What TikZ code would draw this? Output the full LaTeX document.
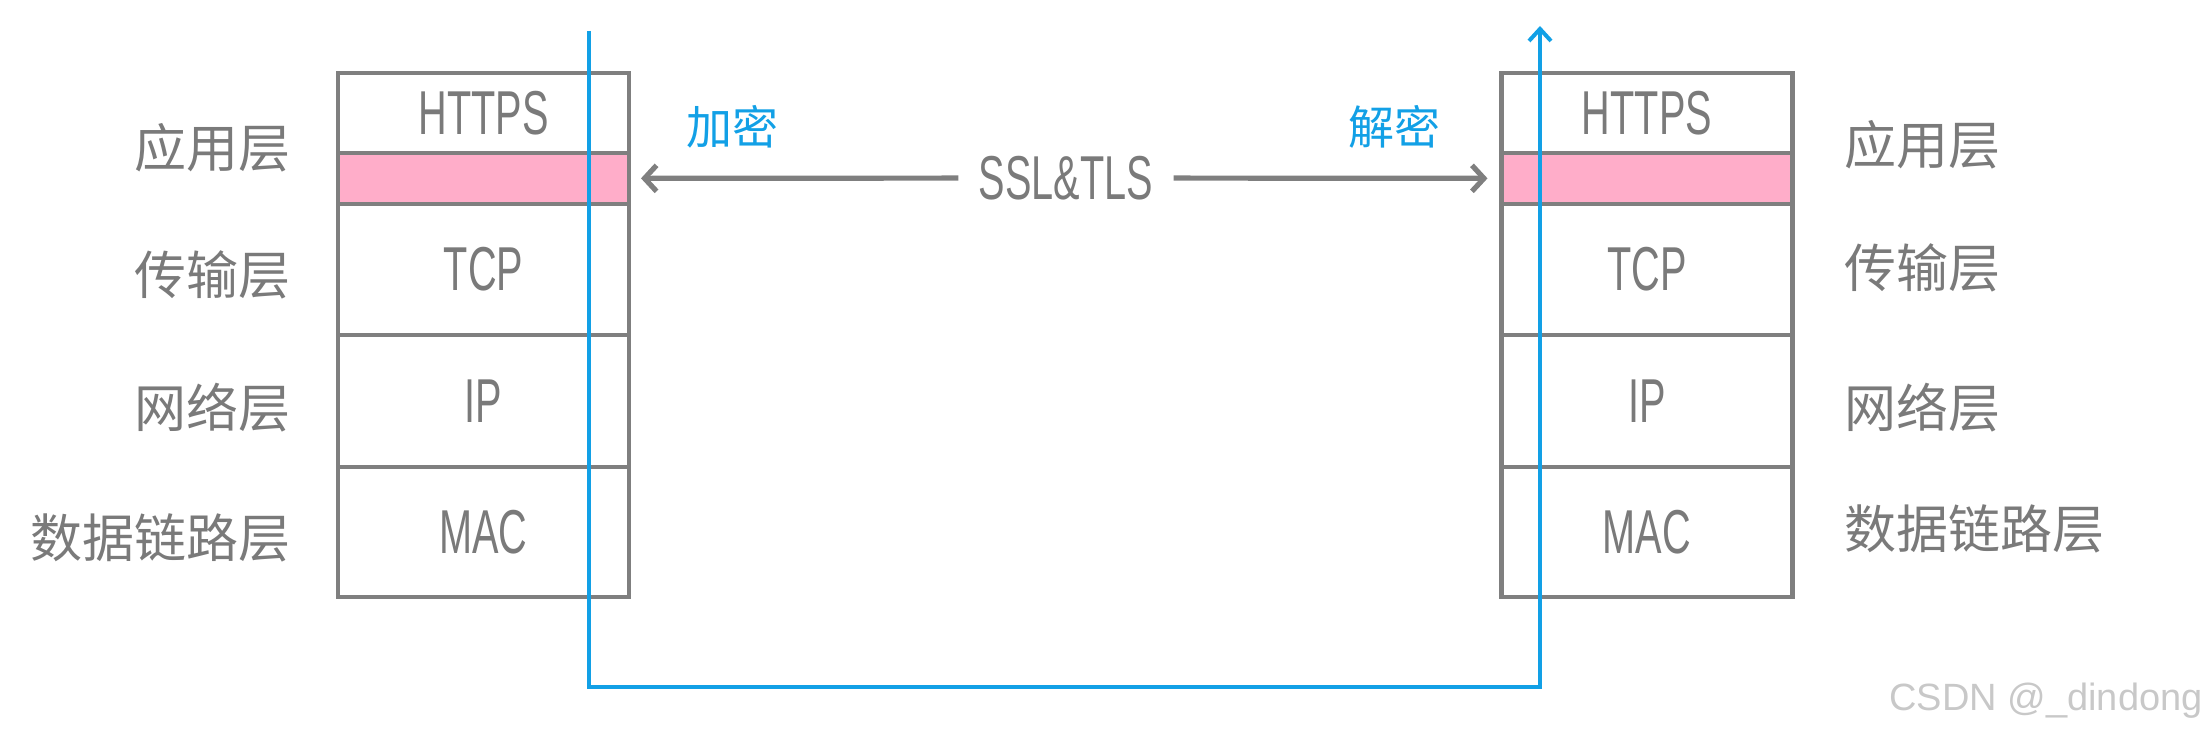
\documentclass[tikz,border=0pt]{standalone}
\usepackage{fontspec}
\setmainfont{Liberation Sans}
\newfontfamily\cjk{Noto Sans CJK SC}
\newfontfamily\narrow[FakeStretch=0.64]{Liberation Sans}
\usepackage{tikz}
\usetikzlibrary{arrows.meta,positioning,calc}
\definecolor{boxgray}{HTML}{7F7F7F}
\definecolor{textgray}{HTML}{7A7A7A}
\definecolor{sslpink}{HTML}{FFADC9}
\definecolor{pathblue}{HTML}{12A0E6}
\definecolor{markgray}{HTML}{C8C8C8}

\begin{document}
\begin{tikzpicture}[
    x=0.5pt,y=-0.5pt,
    flow/.style={line width=2.6pt,draw=boxgray,
      -{Straight Barb[length=6pt,width=13pt,line width=2.6pt]}},
    packet/.style={line width=2pt,draw=pathblue,
      -{Straight Barb[length=6pt,width=11pt,line width=2pt]}},
    layer/.style={draw=boxgray,line width=2.4pt,fill=white,
      minimum width=145.5pt,inner sep=0pt,outer sep=0pt,
      font=\narrow\fontsize{31}{31}\selectfont,text=textgray},
    sslband/.style={layer,fill=sslpink,minimum height=25.5pt},
    rowlabel/.style={font=\cjk\fontsize{26}{26}\selectfont,text=textgray,
      inner sep=0pt},
    cryptlabel/.style={font=\cjk\fontsize{23}{23}\selectfont,text=pathblue,
      inner sep=0pt},
    sslname/.style={font=\narrow\fontsize{31}{31}\selectfont,text=textgray,
      inner xsep=10pt,inner ysep=0pt}
  ]
    \useasboundingbox (0,0) rectangle (2208,742);

    % Sender stack (left).
    \node[layer,minimum height=40pt] (lhttps) at (483.5,113) {HTTPS};
    \node[sslband] (lssl) at (483.5,178.5) {};
    \node[layer,minimum height=65.5pt] (ltcp) at (483.5,269.5) {TCP};
    \node[layer,minimum height=66pt] (lip) at (483.5,401) {IP};
    \node[layer,minimum height=65pt] (lmac) at (483.5,532) {MAC};
    \node[rowlabel,anchor=east] (lapp) at (291,148) {应用层};
    \node[rowlabel,anchor=east] (ltrans) at (291,275) {传输层};
    \node[rowlabel,anchor=east] (lnet) at (291,408) {网络层};
    \node[rowlabel,anchor=east] (llink) at (291,538) {数据链路层};

    % Receiver stack (right).
    \node[layer,minimum height=40pt] (rhttps) at (1647,113) {HTTPS};
    \node[sslband] (rssl) at (1647,178.5) {};
    \node[layer,minimum height=65.5pt] (rtcp) at (1647,269.5) {TCP};
    \node[layer,minimum height=66pt] (rip) at (1647,401) {IP};
    \node[layer,minimum height=65pt] (rmac) at (1647,532) {MAC};
    \node[rowlabel,anchor=west] (rapp) at (1844,145) {应用层};
    \node[rowlabel,anchor=west] (rtrans) at (1844,268) {传输层};
    \node[rowlabel,anchor=west] (rnet) at (1844,408) {网络层};
    \node[rowlabel,anchor=west] (rlink) at (1844,529) {数据链路层};

    % SSL/TLS between the two stacks.
    \node[sslname] (ssl) at (1066,178) {SSL\&TLS};
    \draw[flow,shorten >=6pt] (ssl) -- (lssl);
    \draw[flow,shorten >=7pt] (ssl) -- (rssl);
    \node[cryptlabel] (enc) at (732,127) {加密};
    \node[cryptlabel] (dec) at (1394,127) {解密};

    % Data path down and up again.
    \coordinate (start) at (589,31);
    \coordinate (goal) at (1540,26);
    \draw[packet] (start) |- ($(goal)+(0,661)$) -- (goal);

    \node[font=\fontsize{19}{19}\selectfont,text=markgray,anchor=east,
      inner sep=0pt] (mark) at (2203,701) {CSDN @\_dindong};
  \end{tikzpicture}
\end{document}
